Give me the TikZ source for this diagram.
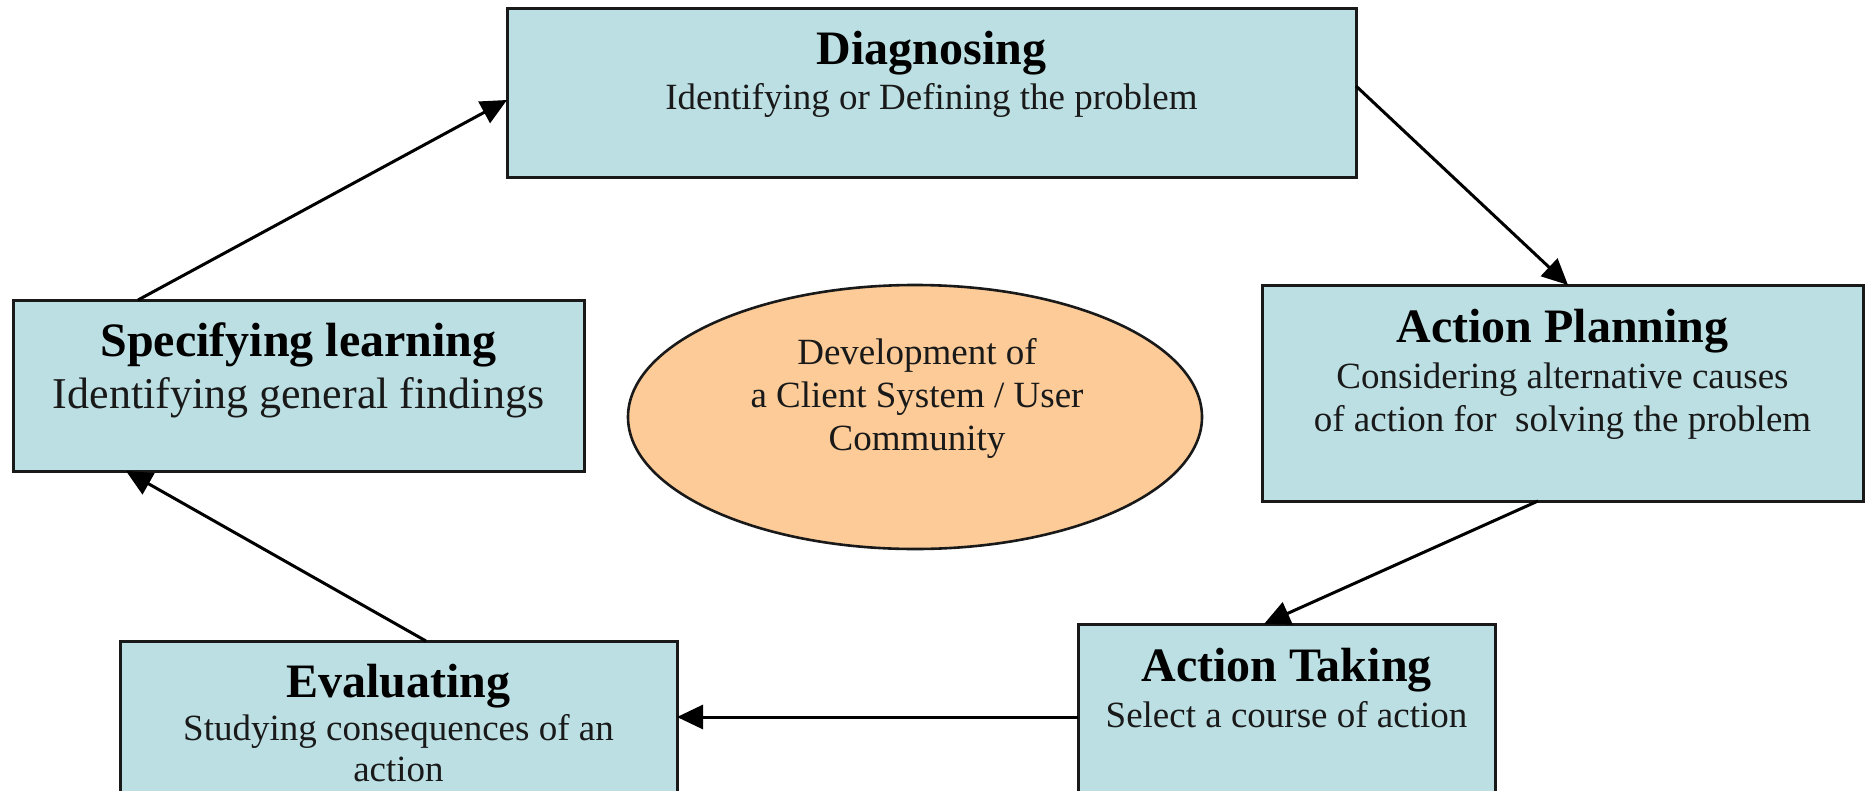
\documentclass[tikz,border=0pt]{standalone}
\usepackage{fontspec}
\setmainfont{Liberation Serif}
\usetikzlibrary{arrows.meta,shapes.geometric,calc}
\definecolor{boxblue}{HTML}{BCDFE3}
\definecolor{peach}{HTML}{FCCB98}
\begin{document}
\begin{tikzpicture}[x=1pt,y=-1pt,
  stagebox/.style={draw=black!90,line width=3pt,fill=boxblue,rectangle,inner sep=0pt,outer sep=0pt},
  hubshape/.style={draw=black!90,line width=2.6pt,fill=peach,ellipse,inner sep=0pt,outer sep=0pt,minimum width=574pt,minimum height=264pt},
  ttl/.style={anchor=base,inner sep=0pt,font=\fontsize{48}{52}\selectfont\bfseries},
  sub/.style={anchor=base,inner sep=0pt,font=\fontsize{37}{43}\selectfont,text=black!90},
  link/.style={line width=3pt,-{Triangle[length=26pt,width=24pt]}}]
\useasboundingbox (0,0) rectangle (1865,790);
\clip (0,0) rectangle (1865,790);
% boxes
\node[stagebox,minimum width=849pt,minimum height=169pt] (diag) at (931.5,92.5) {};
\node[stagebox,minimum width=601pt,minimum height=216pt] (plan) at (1562.5,393) {};
\node[stagebox,minimum width=417pt,minimum height=220pt] (take) at (1286.5,734) {};
\node[stagebox,minimum width=557pt,minimum height=200pt] (eval) at (398.5,741) {};
\node[stagebox,minimum width=571pt,minimum height=171pt] (spec) at (298.5,385.5) {};
\node[hubshape] (hub) at (915,417) {};
% texts
\node[ttl] (diagT) at ([yshift=-56pt]diag.north) {Diagnosing};
\node[sub] (diagS) at ([yshift=-101pt]diag.north) {Identifying or Defining the problem};
\node[ttl] (planT) at ([yshift=-57pt]plan.north) {Action Planning};
\node[sub] (planS1) at ([yshift=-103pt]plan.north) {Considering alternative causes};
\node[sub] (planS2) at ([yshift=-146pt]plan.north) {of action for~ solving the problem};
\node[ttl] (takeT) at ([yshift=-57pt]take.north) {Action Taking};
\node[sub] (takeS) at ([yshift=-103pt]take.north) {Select a course of action};
\node[ttl] (evalT) at ([yshift=-56pt]eval.north) {Evaluating};
\node[sub] (evalS1) at ([yshift=-99pt]eval.north) {Studying consequences of an};
\node[sub] (evalS2) at ([yshift=-140pt]eval.north) {action};
\node[ttl] (specT) at ([yshift=-56pt]spec.north) {Specifying learning};
\node[sub,font=\fontsize{44}{50}\selectfont] (specS) at ([yshift=-108pt]spec.north) {Identifying general findings};
\node[sub] (hub1) at (917,364) {Development of};
\node[sub] (hub2) at (917,407) {a Client System / User};
\node[sub] (hub3) at (917,450) {Community};
% connectors
\draw[link] ([xshift=125pt]spec.north west) -- ([yshift=-7.5pt]diag.west);
\draw[link] ([yshift=6.5pt]diag.east) -- ([xshift=306pt]plan.north west);
\draw[link] ([xshift=276pt]plan.south west) -- ([xshift=186pt]take.north west);
\draw[link] ([yshift=-93pt]take.north west) -- ([yshift=-76pt]eval.north east);
\draw[link] ([xshift=306pt]eval.north west) -- ([xshift=113pt]spec.south west);
\end{tikzpicture}
\end{document}
